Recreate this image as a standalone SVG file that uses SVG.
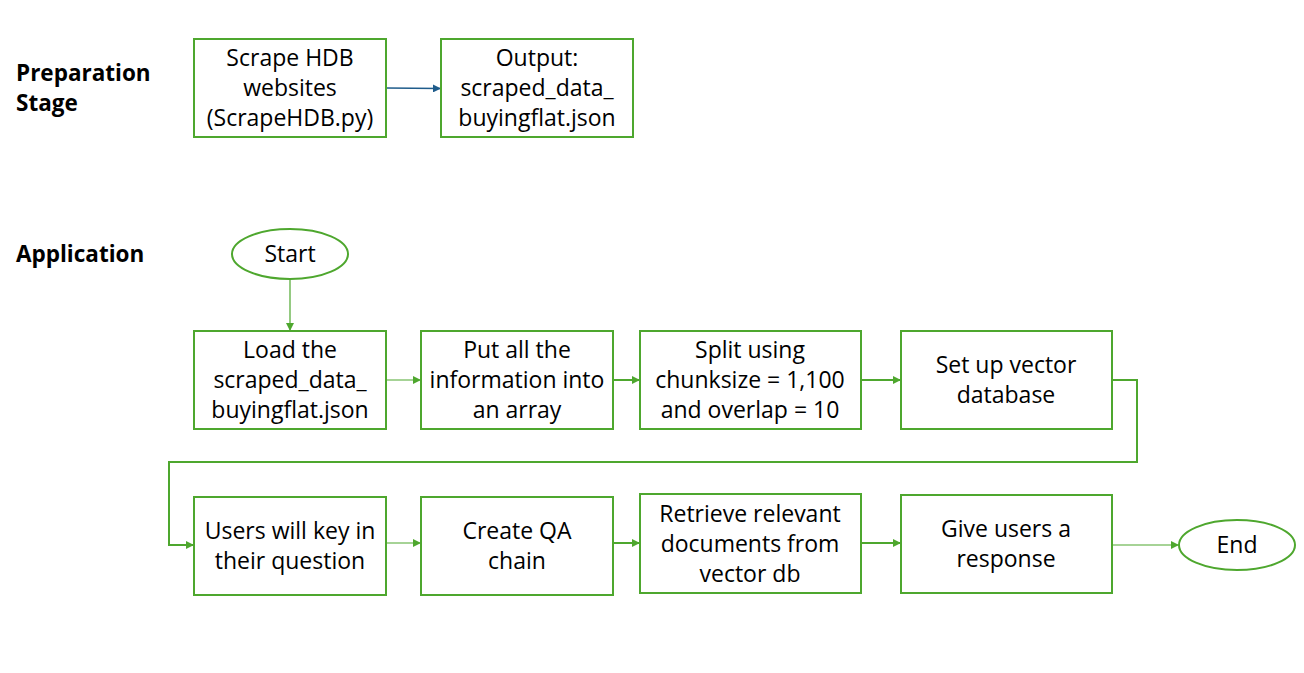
<svg xmlns="http://www.w3.org/2000/svg" width="1304" height="673" viewBox="0 0 1304 673">
<defs>
<style>
.box{fill:#fff;stroke:#4ea72e;stroke-width:2}
.t{font-family:"Open Sans","Liberation Sans",sans-serif;font-size:23px;fill:#000;text-anchor:middle}
.lbl{font-family:"Open Sans","Liberation Sans",sans-serif;font-size:22.5px;font-weight:bold;fill:#000}
.c{fill:none;stroke:#4ea72e;stroke-width:2}
.c1{fill:none;stroke:#4ea72e;stroke-width:1.2}
</style>
<marker id="ag" markerWidth="8" markerHeight="8" refX="7" refY="4" orient="auto" markerUnits="userSpaceOnUse"><path d="M0,0 L8,4 L0,8 z" fill="#4ea72e"/></marker>
<marker id="ab" markerWidth="8" markerHeight="8" refX="7" refY="4" orient="auto" markerUnits="userSpaceOnUse"><path d="M0,0 L8,4 L0,8 z" fill="#1f5c8b"/></marker>
</defs>
<rect width="1304" height="673" fill="#fff"/>
<text class="lbl" x="16" y="81">Preparation</text>
<text class="lbl" x="16" y="111">Stage</text>
<text class="lbl" x="16" y="262">Application</text>

<g id="connectors">
<path d="M386,88 L440,88.5" fill="none" stroke="#1f5c8b" stroke-width="1.5" marker-end="url(#ab)"/>
<path class="c1" d="M290,279 L290,330" marker-end="url(#ag)"/>
<path class="c1" d="M386,380 L420,380" marker-end="url(#ag)"/>
<path class="c" d="M613,380 L639,380" marker-end="url(#ag)"/>
<path class="c" d="M861,380 L900,380" marker-end="url(#ag)"/>
<path class="c" d="M1112,380 L1137,380 L1137,462 L169,462 L169,545 L193,545" marker-end="url(#ag)"/>
<path class="c1" d="M386,543 L420,543" marker-end="url(#ag)"/>
<path class="c" d="M613,543 L639,543" marker-end="url(#ag)"/>
<path class="c" d="M861,543 L900,543" marker-end="url(#ag)"/>
<path class="c1" d="M1112,545 L1178,545" marker-end="url(#ag)"/>
</g>

<g id="scrape"><rect class="box" x="194" y="39" width="192" height="98"/>
<text class="t" x="290" y="66">Scrape HDB</text><text class="t" x="290" y="96">websites</text><text class="t" x="290" y="126">(ScrapeHDB.py)</text></g>
<g id="output"><rect class="box" x="441" y="39" width="192" height="98"/>
<text class="t" x="537" y="66">Output:</text><text class="t" x="537" y="96">scraped_data_</text><text class="t" x="537" y="126">buyingflat.json</text></g>

<g id="start"><ellipse class="box" cx="290" cy="254" rx="58" ry="25"/><text class="t" x="290" y="262">Start</text></g>

<g id="load"><rect class="box" x="194" y="331" width="192" height="98"/>
<text class="t" x="290" y="358">Load the</text><text class="t" x="290" y="388">scraped_data_</text><text class="t" x="290" y="418">buyingflat.json</text></g>
<g id="array"><rect class="box" x="421" y="331" width="192" height="98"/>
<text class="t" x="517" y="358">Put all the</text><text class="t" x="517" y="388">information into</text><text class="t" x="517" y="418">an array</text></g>
<g id="split"><rect class="box" x="640" y="331" width="221" height="98"/>
<text class="t" x="750" y="358">Split using</text><text class="t" x="750" y="388">chunksize = 1,100</text><text class="t" x="750" y="418">and overlap = 10</text></g>
<g id="vectordb"><rect class="box" x="901" y="331" width="211" height="98"/>
<text class="t" x="1006" y="373">Set up vector</text><text class="t" x="1006" y="403">database</text></g>

<g id="users"><rect class="box" x="194" y="497" width="192" height="98"/>
<text class="t" x="290" y="539">Users will key in</text><text class="t" x="290" y="569">their question</text></g>
<g id="qa"><rect class="box" x="421" y="497" width="192" height="98"/>
<text class="t" x="517" y="539">Create QA</text><text class="t" x="517" y="569">chain</text></g>
<g id="retrieve"><rect class="box" x="640" y="494" width="221" height="99"/>
<text class="t" x="750" y="522">Retrieve relevant</text><text class="t" x="750" y="552">documents from</text><text class="t" x="750" y="582">vector db</text></g>
<g id="response"><rect class="box" x="901" y="495" width="211" height="98"/>
<text class="t" x="1006" y="537">Give users a</text><text class="t" x="1006" y="567">response</text></g>
<g id="end"><ellipse class="box" cx="1237" cy="545" rx="58" ry="25"/><text class="t" x="1237" y="553">End</text></g>
</svg>
